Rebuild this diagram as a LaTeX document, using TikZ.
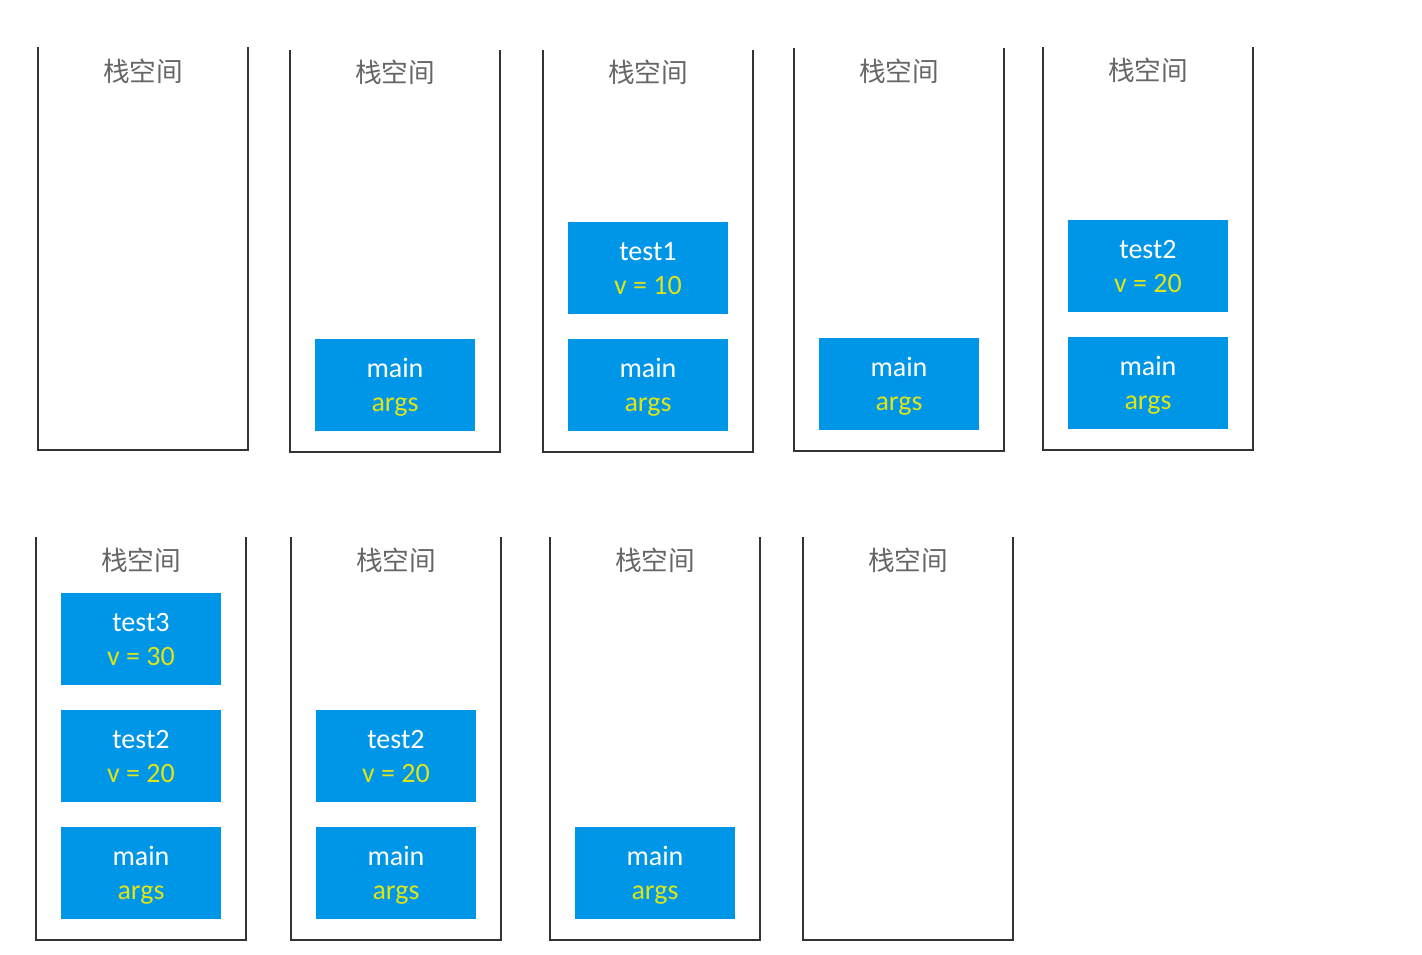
\documentclass[tikz,border=0pt]{standalone}
\usepackage{fontspec}
\setmainfont{Carlito}
\newfontfamily\cjk{Noto Sans CJK SC}
\definecolor{frameblue}{RGB}{0,150,232}
\definecolor{argyellow}{RGB}{222,228,24}
\tikzset{
  stack/.style={draw=black!80, line width=1.5},
  stacktitle/.style={text=black!60, font=\cjk\fontsize{20pt}{24pt}\selectfont},
  frame/.style={fill=frameblue, minimum width=120pt, minimum height=69pt,
    inner sep=0pt, align=center, text=white, text depth=-3pt,
    font=\fontsize{21pt}{25.5pt}\selectfont},
}
\newcommand{\vals}[1]{\\ \textcolor{argyellow}{#1}}
\begin{document}
\begin{tikzpicture}[x=0.75pt, y=-0.75pt]
  \useasboundingbox (0,0) rectangle (1422,954);
  % first row
  \draw [stack] (38,47) |- (248,450) -- (248,47);
  \node [stacktitle] (t1) at (143,71) {栈空间};
  \draw [stack] (290,50) |- (500,452) -- (500,50);
  \node [stacktitle] (t2) at (395,72) {栈空间};
  \node [frame] (main2) at (395,385) {main\vals{args}};
  \draw [stack] (543,50) |- (753,452) -- (753,50);
  \node [stacktitle] (t3) at (648,72) {栈空间};
  \node [frame] (testa3) at (648,268) {test1\vals{v = 10}};
  \node [frame] (main3) at (648,385) {main\vals{args}};
  \draw [stack] (794,48) |- (1004,451) -- (1004,48);
  \node [stacktitle] (t4) at (899,71) {栈空间};
  \node [frame] (main4) at (899,384) {main\vals{args}};
  \draw [stack] (1043,47) |- (1253,450) -- (1253,47);
  \node [stacktitle] (t5) at (1148,70) {栈空间};
  \node [frame] (testb5) at (1148,266) {test2\vals{v = 20}};
  \node [frame] (main5) at (1148,383) {main\vals{args}};
  % second row
  \draw [stack] (36,537) |- (246,940) -- (246,537);
  \node [stacktitle] (t6) at (141,560) {栈空间};
  \node [frame] (testc6) at (141,639) {test3\vals{v = 30}};
  \node [frame] (testb6) at (141,756) {test2\vals{v = 20}};
  \node [frame] (main6) at (141,873) {main\vals{args}};
  \draw [stack] (291,537) |- (501,940) -- (501,537);
  \node [stacktitle] (t7) at (396,560) {栈空间};
  \node [frame] (testb7) at (396,756) {test2\vals{v = 20}};
  \node [frame] (main7) at (396,873) {main\vals{args}};
  \draw [stack] (550,537) |- (760,940) -- (760,537);
  \node [stacktitle] (t8) at (655,560) {栈空间};
  \node [frame] (main8) at (655,873) {main\vals{args}};
  \draw [stack] (803,537) |- (1013,940) -- (1013,537);
  \node [stacktitle] (t9) at (908,560) {栈空间};
\end{tikzpicture}
\end{document}
